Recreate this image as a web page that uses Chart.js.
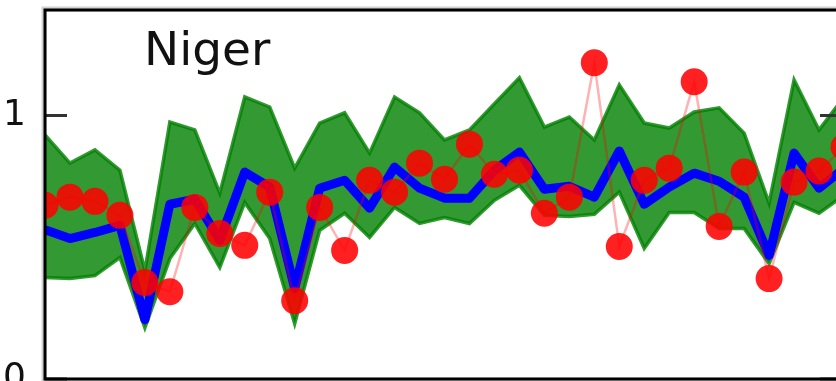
<!DOCTYPE html>
<html>
<head>
<meta charset="utf-8">
<script src="https://cdn.jsdelivr.net/npm/chart.js@4.4.1/dist/chart.umd.min.js"></script>
<style>
  html, body { margin: 0; padding: 0; background: #fff; overflow: hidden; width: 836px; height: 381px; }
  #wrap { position: relative; width: 860px; height: 381px; }
  canvas { display: block; }
</style>
</head>
<body>
<div id="wrap"><canvas id="c" width="860" height="381" style="width:860px;height:381px"></canvas></div>
<script>
// One panel: observed yearly values, fitted mean and its uncertainty band
const periods = Array.from({ length: 33 }, (_, i) => i + 1);

const observed = [0.659, 0.690, 0.674, 0.621, 0.366, 0.331, 0.651, 0.552, 0.507, 0.709, 0.297,
                  0.651, 0.488, 0.754, 0.709, 0.819, 0.758, 0.891, 0.777, 0.792, 0.629, 0.690,
                  1.200, 0.503, 0.754, 0.800, 1.128, 0.579, 0.785, 0.381, 0.747, 0.789, 0.880];

const fitted = [0.566, 0.533, 0.556, 0.583, 0.225, 0.663, 0.682, 0.526, 0.785, 0.728, 0.343,
                0.724, 0.754, 0.648, 0.804, 0.724, 0.686, 0.686, 0.792, 0.861, 0.720, 0.731,
                0.690, 0.865, 0.663, 0.728, 0.781, 0.750, 0.690, 0.469, 0.857, 0.724, 0.800];

const bandHigh = [0.926, 0.819, 0.869, 0.792, 0.411, 0.975, 0.945, 0.705, 1.070, 1.032, 0.800,
                  0.971, 1.010, 0.857, 1.070, 1.010, 0.907, 0.945, 1.044, 1.143, 0.956, 0.994,
                  0.907, 1.116, 0.971, 0.952, 1.013, 1.029, 0.933, 0.667, 1.135, 0.945, 1.070];

const bandLow = [0.385, 0.381, 0.392, 0.461, 0.194, 0.457, 0.590, 0.423, 0.670, 0.533, 0.210,
                 0.564, 0.629, 0.537, 0.651, 0.590, 0.613, 0.590, 0.678, 0.735, 0.621, 0.617,
                 0.625, 0.709, 0.495, 0.632, 0.632, 0.571, 0.571, 0.438, 0.670, 0.629, 0.697];

const yTicks = [0, 1];
const panelTitle = 'Niger';

const GREEN = 'rgba(0,128,0,0.8)';

// Axes box, inward tick marks and the in-panel title
const framePlugin = {
  id: 'framePlugin',
  beforeDraw(chart) {
    const { ctx, chartArea: a } = chart;
    ctx.save();
    ctx.strokeStyle = '#d2d2d2';
    ctx.lineWidth = 7;
    ctx.strokeRect(a.left, a.top, a.right - a.left, a.bottom - a.top);
    ctx.fillStyle = '#fff';
    ctx.fillRect(a.left + 1.5, a.top + 1.5, a.right - a.left - 3, a.bottom - a.top - 3);
    ctx.restore();
  },
  afterDatasetsDraw(chart) {
    const { ctx, chartArea: a, scales: { y } } = chart;
    ctx.save();
    ctx.strokeStyle = '#333';
    ctx.lineWidth = 3;
    yTicks.forEach(v => {
      const py = y.getPixelForValue(v);
      ctx.beginPath();
      ctx.moveTo(a.left, py);
      ctx.lineTo(a.left + 22, py);
      ctx.moveTo(a.right, py);
      ctx.lineTo(a.right - 24, py);
      ctx.stroke();
    });
    ctx.strokeStyle = '#000';
    ctx.lineWidth = 3;
    ctx.strokeRect(a.left, a.top, a.right - a.left, a.bottom - a.top);

    ctx.fillStyle = '#111';
    ctx.font = '47px "DejaVu Sans"';
    ctx.textBaseline = 'alphabetic';
    ctx.textAlign = 'left';
    ctx.fillText(panelTitle, a.left + 99, a.top + 55);
    ctx.restore();
  }
};

new Chart(document.getElementById('c'), {
  type: 'line',
  data: {
    labels: periods,
    datasets: [
      {
        label: 'observed',
        data: observed,
        order: 0,
        borderColor: 'rgba(255,0,0,0.3)',
        borderWidth: 2.5,
        pointRadius: 13.5,
        pointHoverRadius: 13.5,
        pointBackgroundColor: 'rgba(255,0,0,0.87)',
        pointBorderWidth: 0,
        fill: false,
        clip: 0
      },
      {
        label: 'fitted',
        data: fitted,
        order: 1,
        borderColor: '#0000ff',
        borderWidth: 9,
        borderJoinStyle: 'round',
        pointRadius: 0,
        fill: false,
        clip: 0
      },
      {
        label: 'upper',
        data: bandHigh,
        order: 2,
        borderColor: GREEN,
        backgroundColor: GREEN,
        borderWidth: 3.5,
        pointRadius: 0,
        fill: '+1',
        clip: 0
      },
      {
        label: 'lower',
        data: bandLow,
        order: 3,
        borderColor: GREEN,
        borderWidth: 3.5,
        pointRadius: 0,
        fill: false,
        clip: 0
      }
    ]
  },
  options: {
    responsive: false,
    animation: false,
    devicePixelRatio: 1,
    events: [],
    layout: { autoPadding: false, padding: { left: 0, right: 16, top: 10, bottom: 2 } },
    plugins: {
      legend: { display: false },
      tooltip: { enabled: false },
      filler: { drawTime: 'beforeDatasetsDraw' }
    },
    scales: {
      x: { type: 'category', display: false, offset: false },
      y: {
        min: 0,
        max: 1.4,
        afterFit(scale) {
          scale.width = 45;
          scale.paddingTop = 0;
          scale.paddingBottom = 0;
        },
        afterBuildTicks(scale) { scale.ticks = yTicks.map(v => ({ value: v })); },
        grid: { display: false, drawTicks: false },
        border: { display: false },
        ticks: {
          color: '#111',
          padding: 19,
          font: { family: '"DejaVu Sans"', size: 36 }
        }
      }
    }
  },
  plugins: [framePlugin]
});
</script>
</body>
</html>
